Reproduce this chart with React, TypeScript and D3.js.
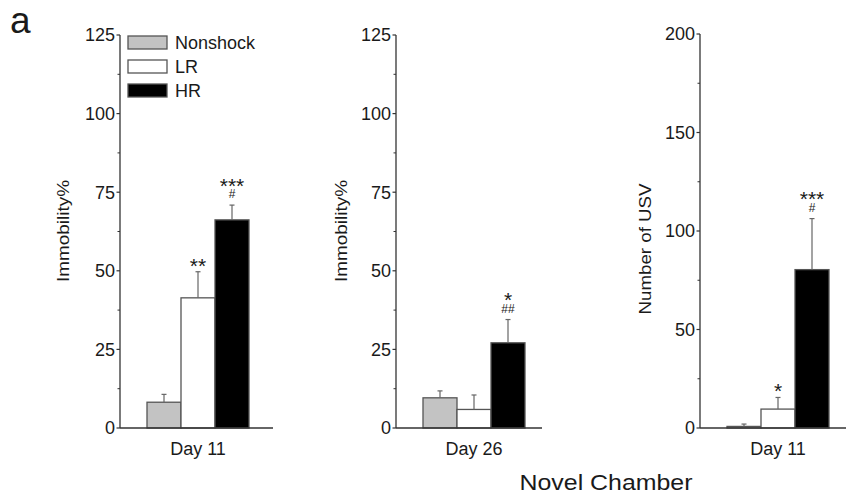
import React from "react";
import * as d3 from "d3";

// Groups and measured values (mean, SEM) for each panel
const groups = ["Nonshock", "LR", "HR"];
const groupFill = ["#c3c3c3", "#ffffff", "#000000"];

const day11Immobility = [8.2, 41.4, 66.2];
const day11ImmobilityErr = [2.5, 8.3, 4.7];
const day11ImmobilityStars = ["", "**", "***"];
const day11ImmobilityHash = ["", "", "#"];

const day26Immobility = [9.6, 5.9, 27.1];
const day26ImmobilityErr = [2.2, 4.6, 7.4];
const day26ImmobilityStars = ["", "", "*"];
const day26ImmobilityHash = ["", "", "##"];

const day11Usv = [0.8, 9.6, 80.4];
const day11UsvErr = [1.2, 5.9, 25.9];
const day11UsvStars = ["", "*", "***"];
const day11UsvHash = ["", "", "#"];

const immobilityTicks = [0, 25, 50, 75, 100, 125];
const usvTicks = [0, 50, 100, 150, 200];

const FONT = "'Liberation Sans', Arial, sans-serif";
const AXIS = "#333";
const TEXT = "#1a1a1a";

type PanelProps = {
  axisX: number;
  axisEnd: number;
  yMax: number;
  yTop: number;
  ticks: number[];
  minorStep: number;
  values: number[];
  errs: number[];
  stars: string[];
  hashes: string[];
  yLabel: string;
  yLabelX: number;
  yLabelY: number;
  yLabelLen: number;
  xLabel: string;
};

const BASE_Y = 428;

function Panel(p: PanelProps) {
  const y = d3.scaleLinear().domain([0, p.yMax]).range([BASE_Y, p.yTop]);
  const x = d3
    .scaleBand<string>()
    .domain(groups)
    .range([p.axisX + 27, p.axisX + 129])
    .paddingInner(0)
    .paddingOuter(0);
  const minors = d3.range(0, p.yMax + 0.001, p.minorStep).filter((v) => !p.ticks.includes(v));
  const bw = x.bandwidth();
  const center = (x(groups[0])! + x(groups[2])! + bw) / 2;

  return (
    <g>
      {/* bars */}
      {groups.map((g, i) => (
        <rect
          key={g}
          x={x(g)!}
          y={y(p.values[i])}
          width={bw}
          height={BASE_Y - y(p.values[i])}
          fill={groupFill[i]}
          stroke="#555"
          strokeWidth={1.3}
        />
      ))}
      {/* upper error bars */}
      {groups.map((g, i) => {
        const cx = x(g)! + bw / 2;
        const top = y(p.values[i] + p.errs[i]);
        return (
          <g key={"e" + g} stroke="#666" strokeWidth={1.2}>
            <line x1={cx} x2={cx} y1={y(p.values[i])} y2={top} />
            <line x1={cx - 2.5} x2={cx + 2.5} y1={top} y2={top} />
          </g>
        );
      })}
      {/* significance marks: stars above, hash signs just over the error bar */}
      {groups.map((g, i) => {
        const cx = x(g)! + bw / 2;
        const top = y(p.values[i] + p.errs[i]);
        const hasHash = p.hashes[i] !== "";
        if (!p.stars[i] && !hasHash) return null;
        return (
          <text key={"s" + g} x={cx} y={hasHash ? top - 12.5 : top + 1} fill={TEXT} fontFamily={FONT} textAnchor="middle">
            {p.stars[i] && (
              <tspan x={cx} fontSize={21}>
                {p.stars[i]}
              </tspan>
            )}
            {hasHash && (
              <tspan x={cx} dy={5.5} fontSize={12}>
                {p.hashes[i]}
              </tspan>
            )}
          </text>
        );
      })}
      {/* axes */}
      <line x1={p.axisX} x2={p.axisX} y1={y(p.yMax)} y2={BASE_Y} stroke={AXIS} strokeWidth={1.3} />
      <line x1={p.axisX} x2={p.axisEnd} y1={BASE_Y} y2={BASE_Y} stroke={AXIS} strokeWidth={1.3} />
      {p.ticks.map((t) => (
        <g key={"t" + t}>
          <line x1={p.axisX - 3.5} x2={p.axisX} y1={y(t)} y2={y(t)} stroke={AXIS} strokeWidth={1.2} />
          <text
            x={p.axisX - 5}
            y={y(t)}
            dy="0.36em"
            textAnchor="end"
            fontSize={18}
            fontFamily={FONT}
            fill={TEXT}
          >
            {t}
          </text>
        </g>
      ))}
      {minors.map((t) => (
        <line key={"m" + t} x1={p.axisX - 2.5} x2={p.axisX} y1={y(t)} y2={y(t)} stroke={AXIS} strokeWidth={1} />
      ))}
      <text
        transform={`translate(${p.yLabelX},${p.yLabelY}) rotate(-90)`}
        textAnchor="middle"
        dy="0.36em"
        fontSize={17}
        fontFamily={FONT}
        fill={TEXT}
        textLength={p.yLabelLen}
        lengthAdjust="spacingAndGlyphs"
      >
        {p.yLabel}
      </text>
      <text x={center} y={455} textAnchor="middle" fontSize={18} fontFamily={FONT} fill={TEXT}>
        {p.xLabel}
      </text>
    </g>
  );
}

export default function App() {
  return (
    <svg
      width={846}
      height={502}
      viewBox="0 0 846 502"
      style={{ position: "absolute", left: 0, top: 0, display: "block", background: "#fff" }}
    >
      <rect width={846} height={502} fill="#fff" />
      <text x={10} y={33} fontSize={37} fontFamily={FONT} fill={TEXT}>
        a
      </text>

      <Panel
        axisX={120}
        axisEnd={273}
        yMax={125}
        yTop={35}
        ticks={immobilityTicks}
        minorStep={12.5}
        values={day11Immobility}
        errs={day11ImmobilityErr}
        stars={day11ImmobilityStars}
        hashes={day11ImmobilityHash}
        yLabel="Immobility%"
        yLabelX={63}
        yLabelY={231}
        yLabelLen={102}
        xLabel="Day 11"
      />
      <Panel
        axisX={396}
        axisEnd={542}
        yMax={125}
        yTop={35}
        ticks={immobilityTicks}
        minorStep={12.5}
        values={day26Immobility}
        errs={day26ImmobilityErr}
        stars={day26ImmobilityStars}
        hashes={day26ImmobilityHash}
        yLabel="Immobility%"
        yLabelX={341}
        yLabelY={231}
        yLabelLen={102}
        xLabel="Day 26"
      />
      <Panel
        axisX={700}
        axisEnd={846}
        yMax={200}
        yTop={34}
        ticks={usvTicks}
        minorStep={25}
        values={day11Usv}
        errs={day11UsvErr}
        stars={day11UsvStars}
        hashes={day11UsvHash}
        yLabel="Number of USV"
        yLabelX={645}
        yLabelY={249}
        yLabelLen={131}
        xLabel="Day 11"
      />

      {/* legend */}
      {groups.map((g, i) => (
        <g key={"lg" + g}>
          <rect x={128} y={36 + i * 24} width={39} height={13} fill={groupFill[i]} stroke="#555" strokeWidth={1.3} />
          <text x={175} y={42.5 + i * 24} dy="0.36em" fontSize={18} fontFamily={FONT} fill={TEXT}>
            {g}
          </text>
        </g>
      ))}

      <text x={606} y={490} textAnchor="middle" fontSize={22} fontFamily={FONT} fill={TEXT} textLength={173} lengthAdjust="spacingAndGlyphs">
        Novel Chamber
      </text>
    </svg>
  );
}
